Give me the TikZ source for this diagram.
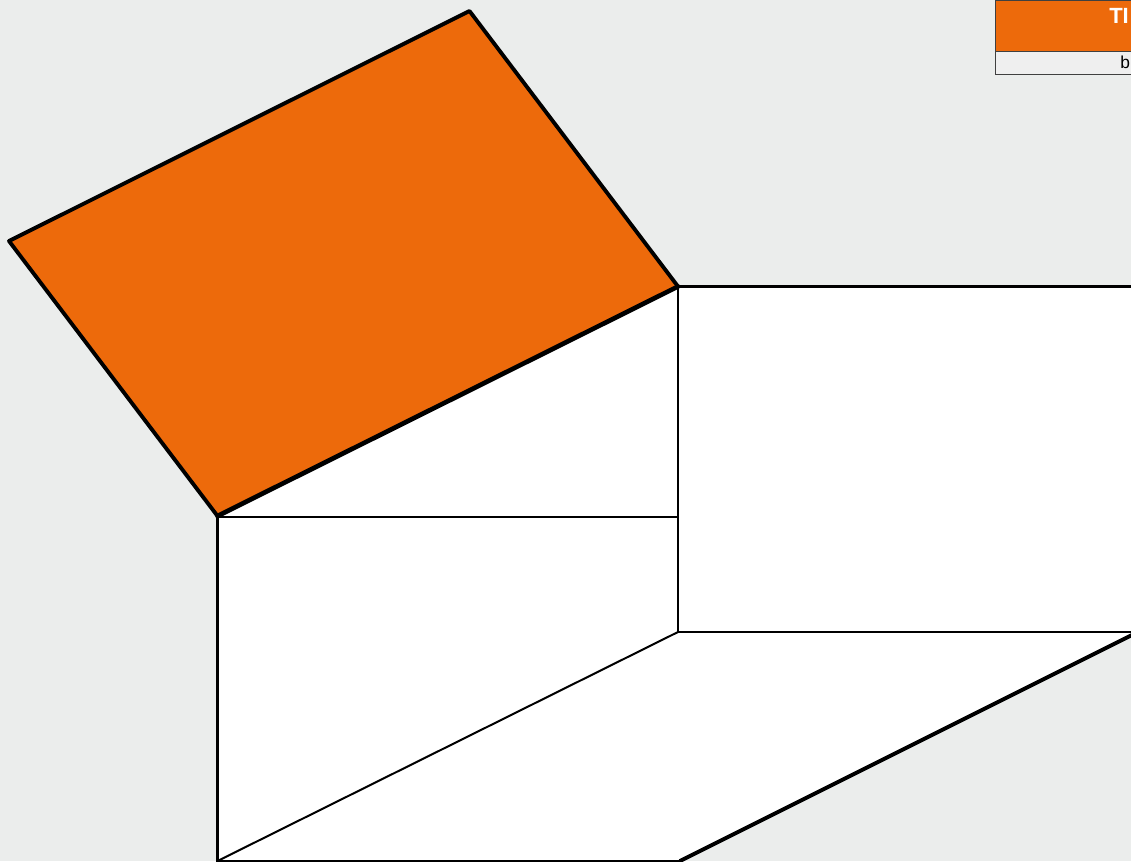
\documentclass[tikz,border=0pt]{standalone}
\usepackage{fontspec}
\setmainfont{Liberation Sans}
\usepackage{tikz}
\usetikzlibrary{positioning}
\definecolor{sheetgrey}{HTML}{EBEDEC}
\definecolor{lidorange}{HTML}{ED6A0B}
\definecolor{rowgrey}{HTML}{EFEFEF}
\tikzset{
  foldline/.style={draw=black,line width=1.5pt,line join=miter},
  cutline/.style={draw=black,line width=2.9pt,line cap=round,line join=round},
  tabletitle/.style={anchor=base west,inner sep=0pt,text=white,font=\fontsize{16.5pt}{18pt}\selectfont\bfseries},
  tablerow/.style={anchor=base west,inner sep=0pt,text=black,font=\fontsize{13pt}{15pt}\selectfont}
}
\begin{document}
\begin{tikzpicture}[x=0.75pt,y=-0.75pt]
\useasboundingbox (0,0) rectangle (1131,861);
\clip (0,0) rectangle (1131,861);
\fill[sheetgrey] (0,0) rectangle (1131,861);
% corners of the net
\coordinate (lid_a) at (469.5,11);
\coordinate (lid_b) at (9,241);
\coordinate (lid_c) at (217.5,516);
\coordinate (lid_d) at (678,286.5);
\coordinate (top_r) at (1180,286.5);
\coordinate (mid_l) at (217.5,517);
\coordinate (mid_r) at (678,517);
\coordinate (back_b) at (678,632);
\coordinate (back_r) at (1180,632);
\coordinate (base_l) at (217.5,861);
\coordinate (base_r) at (680,861);
\coordinate (base_e) at (1180,611);
% faces
\fill[white] (lid_c)--(lid_d)--(top_r)--(base_e)--(base_r)--(base_l)--cycle;
\fill[lidorange] (lid_a)--(lid_b)--(lid_c)--(lid_d)--cycle;
% fold lines
\draw[foldline] (mid_l)--(mid_r);
\draw[foldline] (lid_d)--(back_b);
\draw[foldline] (back_b)--(back_r);
\draw[foldline] (back_b)--(base_l);
\draw[foldline] (base_l)--(base_r);
% outline
\draw[cutline] (lid_c)--(lid_b)--(lid_a)--(lid_d);
\draw[cutline,line width=3.5pt] (lid_c)--(lid_d);
\draw[cutline] (lid_d)--(top_r);
\draw[cutline] (lid_c)--(base_l);
\draw[cutline] (base_r)--(base_e);
% title block
\draw[draw=black!75,line width=0.75pt,fill=lidorange] (995,0.5) rectangle (1160,51);
\draw[draw=black!75,line width=0.75pt,fill=rowgrey] (995,51) rectangle (1160,74);
\node[tabletitle] (block_title) at (1109,23) {TI};
\node[tablerow] (block_row) at (1120,68.5) {b};
\end{tikzpicture}
\end{document}
